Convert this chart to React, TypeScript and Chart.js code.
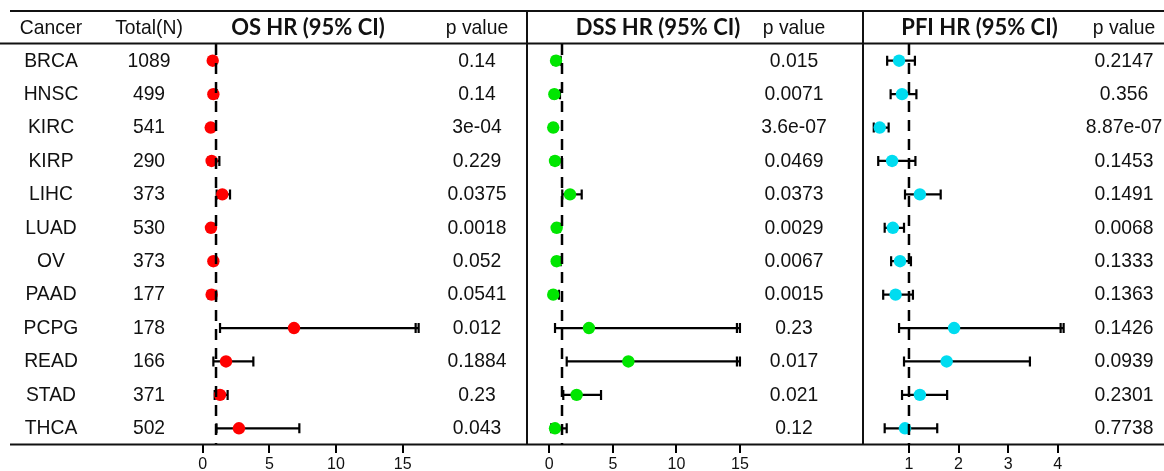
import React, { useEffect, useRef } from 'react';
import { Chart, registerables } from 'chart.js';
Chart.register(...registerables);

// ---------- data ----------
const categories = ['BRCA', 'HNSC', 'KIRC', 'KIRP', 'LIHC', 'LUAD', 'OV', 'PAAD', 'PCPG', 'READ', 'STAD', 'THCA'];
const totals = [1089, 499, 541, 290, 373, 530, 373, 177, 178, 166, 371, 502];

const osHR = [0.75, 0.8, 0.6, 0.67, 1.47, 0.62, 0.8, 0.67, 6.85, 1.75, 1.3, 2.72];
const osLow = [0.6, 0.62, 0.47, 0.45, 1.05, 0.45, 0.64, 0.45, 1.3, 0.8, 0.9, 1.03];
const osHigh = [0.95, 1.07, 0.78, 1.25, 2.05, 0.84, 1.01, 1.01, 16.2, 3.8, 1.87, 7.25];
const osP = ['0.14', '0.14', '3e-04', '0.229', '0.0375', '0.0018', '0.052', '0.0541', '0.012', '0.1884', '0.23', '0.043'];

const dssHR = [0.53, 0.4, 0.31, 0.45, 1.63, 0.58, 0.58, 0.31, 3.12, 6.22, 2.15, 0.45];
const dssLow = [0.32, 0.2, 0.18, 0.21, 1.02, 0.4, 0.39, 0.15, 0.45, 1.37, 1.1, 0.15];
const dssHigh = [0.9, 0.84, 0.5, 0.99, 2.55, 0.84, 0.9, 0.76, 15, 15, 4.07, 1.37];
const dssP = ['0.015', '0.0071', '3.6e-07', '0.0469', '0.0373', '0.0029', '0.0067', '0.0015', '0.23', '0.017', '0.021', '0.12'];

const pfiHR = [0.8, 0.86, 0.41, 0.66, 1.22, 0.675, 0.82, 0.73, 1.91, 1.76, 1.22, 0.92];
const pfiLow = [0.56, 0.63, 0.29, 0.38, 0.92, 0.51, 0.64, 0.48, 0.8, 0.9, 0.86, 0.51];
const pfiHigh = [1.12, 1.15, 0.59, 1.13, 1.64, 0.9, 1.04, 1.08, 4.12, 3.44, 1.77, 1.57];
const pfiP = ['0.2147', '0.356', '8.87e-07', '0.1453', '0.1491', '0.0068', '0.1333', '0.1363', '0.1426', '0.0939', '0.2301', '0.7738'];

const osTicks = [0, 5, 10, 15];
const dssTicks = [0, 5, 10, 15];
const pfiTicks = [1, 2, 3, 4];

const headers = ['Cancer', 'Total(N)', 'OS HR (95% CI)', 'DSS HR (95% CI)', 'PFI HR (95% CI)', 'p value'];

// ---------- layout ----------
const W = 1164;
const H = 471;
const TOP = 44;
const BOTTOM = 445;
const HEADER_Y = 28;
const FONT = '21px "Liberation Sans", Arial, sans-serif';
const BOLD = 'bold 22px Lato, "Open Sans", sans-serif';
const SX = 0.92;

type Panel = {
  title: string;
  hr: number[];
  low: number[];
  high: number[];
  p: string[];
  ticks: number[];
  color: string;
  min: number;
  max: number;
  zeroPx: number;
  unitPx: number;
  titleX: number;
  pX: number;
  truncAt: number;
  table: boolean;
};

const panels: Panel[] = [
  { title: headers[2], hr: osHR, low: osLow, high: osHigh, p: osP, ticks: osTicks, color: '#ff0000',
    min: -1, max: 24, zeroPx: 202.7, unitPx: 13.33, titleX: 308, pX: 477, truncAt: 16.2, table: true },
  { title: headers[3], hr: dssHR, low: dssLow, high: dssHigh, p: dssP, ticks: dssTicks, color: '#00e600',
    min: -1, max: 24, zeroPx: 549.3, unitPx: 12.71, titleX: 658, pX: 794, truncAt: 15, table: false },
  { title: headers[4], hr: pfiHR, low: pfiLow, high: pfiHigh, p: pfiP, ticks: pfiTicks, color: '#00dcf0',
    min: 0.1, max: 5.5, zeroPx: 859.4, unitPx: 49.57, titleX: 979.5, pX: 1124, truncAt: 4.12, table: false },
];

function drawText(ctx: CanvasRenderingContext2D, text: string, x: number, y: number, font: string, sx: number) {
  ctx.save();
  ctx.translate(x, y);
  ctx.scale(sx, 1);
  ctx.font = font;
  ctx.fillStyle = '#111';
  ctx.textAlign = 'center';
  ctx.textBaseline = 'middle';
  ctx.fillText(text, 0, 0);
  ctx.restore();
}

function makeChart(canvas: HTMLCanvasElement, pn: Panel) {
  const left = pn.zeroPx + pn.unitPx * pn.min;
  const right = pn.zeroPx + pn.unitPx * pn.max;

  const errorBars = {
    id: 'errorBars',
    beforeDatasetsDraw(chart: any) {
      const ctx = chart.ctx;
      const xs = chart.scales.x;
      const ys = chart.scales.y;
      ctx.save();
      ctx.strokeStyle = '#000';
      ctx.lineWidth = 2.2;
      for (let i = 0; i < categories.length; i++) {
        const y = ys.getPixelForValue(i);
        const x1 = xs.getPixelForValue(pn.low[i]);
        const x2 = xs.getPixelForValue(pn.high[i]);
        ctx.beginPath();
        ctx.moveTo(x1, y);
        ctx.lineTo(x2, y);
        ctx.moveTo(x1, y - 5);
        ctx.lineTo(x1, y + 5);
        ctx.moveTo(x2, y - 5);
        ctx.lineTo(x2, y + 5);
        if (pn.high[i] >= pn.truncAt - 1e-9) {
          ctx.moveTo(x2 - 3, y - 5);
          ctx.lineTo(x2 - 3, y + 5);
        }
        ctx.stroke();
      }
      ctx.restore();
    },
  };

  const table = {
    id: 'table',
    afterDraw(chart: any) {
      const ctx = chart.ctx;
      const ys = chart.scales.y;
      if (pn.table) {
        ctx.save();
        ctx.strokeStyle = '#111';
        ctx.lineWidth = 2;
        ctx.beginPath();
        ctx.moveTo(10, 11); ctx.lineTo(W, 11);
        ctx.moveTo(0, 43.5); ctx.lineTo(W, 43.5);
        ctx.moveTo(10, 444.5); ctx.lineTo(W, 444.5);
        ctx.moveTo(527, 11); ctx.lineTo(527, 444.5);
        ctx.moveTo(863, 11); ctx.lineTo(863, 444.5);
        ctx.stroke();
        ctx.restore();
        drawText(ctx, headers[0], 51, HEADER_Y, FONT, SX);
        drawText(ctx, headers[1], 149, HEADER_Y, FONT, SX);
        for (let i = 0; i < categories.length; i++) {
          const y = ys.getPixelForValue(i);
          drawText(ctx, categories[i], 51, y, FONT, SX);
          drawText(ctx, String(totals[i]), 149, y, FONT, SX);
        }
      }
      drawText(ctx, pn.title, pn.titleX, HEADER_Y, BOLD, 1);
      drawText(ctx, headers[5], pn.pX, HEADER_Y, FONT, SX);
      for (let i = 0; i < categories.length; i++) {
        drawText(ctx, pn.p[i], pn.pX, ys.getPixelForValue(i), FONT, SX);
      }
    },
  };

  return new Chart(canvas, {
    type: 'scatter',
    data: {
      datasets: [
        {
          data: [{ x: 1, y: -0.5 }, { x: 1, y: 11.5 }],
          showLine: true,
          borderColor: '#000',
          borderWidth: 2.5,
          borderDash: [11, 8],
          pointRadius: 0,
          clip: false as any,
        } as any,
        {
          data: pn.hr.map((v, i) => ({ x: v, y: i })),
          backgroundColor: pn.color,
          borderWidth: 0,
          pointRadius: 6.2,
          pointHoverRadius: 6.2,
        },
      ],
    },
    options: {
      responsive: false,
      animation: false,
      events: [],
      layout: { padding: { left, right: W - right, top: TOP, bottom: 0 } },
      plugins: { legend: { display: false }, tooltip: { enabled: false }, title: { display: false } },
      scales: {
        x: {
          type: 'linear',
          min: pn.min,
          max: pn.max,
          afterBuildTicks: (s: any) => { s.ticks = pn.ticks.map((v) => ({ value: v })); },
          afterFit: (s: any) => { s.height = H - BOTTOM; },
          grid: { display: true, drawOnChartArea: false, drawTicks: true, tickLength: 8, color: '#000', lineWidth: 2 },
          border: { display: false },
          ticks: {
            font: { family: '"Liberation Sans", Arial, sans-serif', size: 16 },
            color: '#111',
            padding: 2,
            maxRotation: 0,
            autoSkip: false,
          },
        },
        y: { type: 'linear', min: -0.5, max: 11.5, reverse: true, display: false },
      },
    },
    plugins: [errorBars, table],
  });
}

export default function App() {
  const r0 = useRef<HTMLCanvasElement>(null);
  const r1 = useRef<HTMLCanvasElement>(null);
  const r2 = useRef<HTMLCanvasElement>(null);

  useEffect(() => {
    const refs = [r0, r1, r2];
    const charts = panels.map((pn, i) => makeChart(refs[i].current as HTMLCanvasElement, pn));
    return () => charts.forEach((c) => c.destroy());
  }, []);

  const st: React.CSSProperties = { position: 'absolute', left: 0, top: 0, width: W, height: H };
  return (
    <div style={{ position: 'absolute', left: 0, top: 0, width: W, height: H, background: '#fff' }}>
      <canvas ref={r0} width={W} height={H} style={st} />
      <canvas ref={r1} width={W} height={H} style={st} />
      <canvas ref={r2} width={W} height={H} style={st} />
    </div>
  );
}
